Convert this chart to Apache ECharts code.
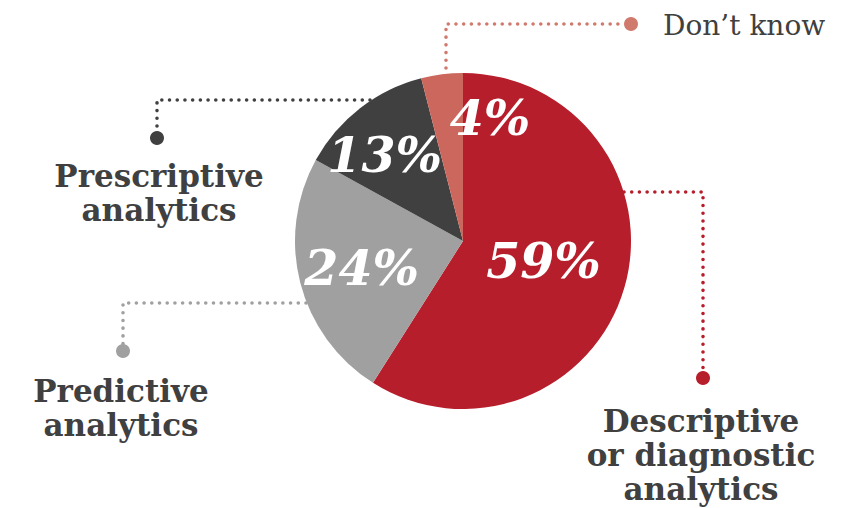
<!DOCTYPE html>
<html>
<head>
<meta charset="utf-8">
<script src="https://cdn.jsdelivr.net/npm/echarts@6/dist/echarts.min.js"></script>
<style>
  html, body { margin: 0; padding: 0; background: #ffffff; }
  #chart { width: 859px; height: 508px; }
</style>
</head>
<body>
<div id="chart"></div>
<script>
// ---- data ----
const categories = [
  'Descriptive\nor diagnostic\nanalytics',
  'Predictive\nanalytics',
  'Prescriptive\nanalytics',
  'Don\u2019t know'
];
const values = [59, 24, 13, 4];

// ---- styles ----
const sliceColors = ['#B71E2B', '#A0A0A0', '#404040', '#CC675D'];
const leaderColors = ['#B71E2B', '#A0A0A0', '#404040', '#D07A6E'];
const textColor = '#404040';
const serif = '"DejaVu Serif", "Liberation Serif", serif';

// per-slice nudges of the inner percentage labels
const labelNudge = [[-3, -4], [-17, 5], [-25, -17], [38, -37]];

const chart = echarts.init(document.getElementById('chart'), null, { renderer: 'svg' });

const dotted = (pts, color) => ({
  type: 'polyline',
  shape: { points: pts },
  style: { stroke: color, lineWidth: 3.6, lineDash: [0.01, 7.7], lineCap: 'round', fill: null },
  silent: true
});
const dot = (x, y, color) => ({
  type: 'circle', shape: { cx: x, cy: y, r: 7 }, style: { fill: color }, silent: true
});
const catText = (i, x, y, bold, align, vAlign) => ({
  type: 'text',
  x: x, y: y,
  style: {
    text: categories[i],
    fill: textColor,
    font: (bold ? 'bold 31px ' : '28px ') + serif,
    align: align,
    verticalAlign: vAlign,
    lineHeight: 34
  },
  silent: true
});

const option = {
  backgroundColor: '#ffffff',
  animation: false,
  series: [{
    type: 'pie',
    center: [463, 241],
    radius: [0, 168],
    startAngle: 90,
    clockwise: true,
    avoidLabelOverlap: false,
    itemStyle: { borderWidth: 0 },
    label: {
      show: true,
      position: 'inside',
      formatter: p => p.value + '%',
      color: '#ffffff',
      fontFamily: serif,
      fontWeight: 'bold',
      fontStyle: 'italic',
      fontSize: 49
    },
    labelLine: { show: false },
    labelLayout: p => ({ dx: labelNudge[p.dataIndex][0], dy: labelNudge[p.dataIndex][1] }),
    emphasis: { disabled: true },
    data: values.map((v, i) => ({ value: v, name: categories[i], itemStyle: { color: sliceColors[i] } }))
  }],
  graphic: [
    // Don't know
    dotted([[446, 68], [446, 24], [624, 24]], leaderColors[3]),
    dot(631, 24, leaderColors[3]),
    catText(3, 663, 25, false, 'left', 'middle'),
    // Prescriptive
    dotted([[370, 100], [157, 100], [157, 131]], leaderColors[2]),
    dot(157, 138, leaderColors[2]),
    catText(2, 159, 159, true, 'center', 'top'),
    // Predictive
    dotted([[306, 303], [123, 303], [123, 344]], leaderColors[1]),
    dot(123, 351, leaderColors[1]),
    catText(1, 121, 374, true, 'center', 'top'),
    // Descriptive
    dotted([[624, 192], [703, 192], [703, 371]], leaderColors[0]),
    dot(703, 378, leaderColors[0]),
    catText(0, 701, 404, true, 'center', 'top')
  ]
};
chart.setOption(option);
</script>
</body>
</html>
